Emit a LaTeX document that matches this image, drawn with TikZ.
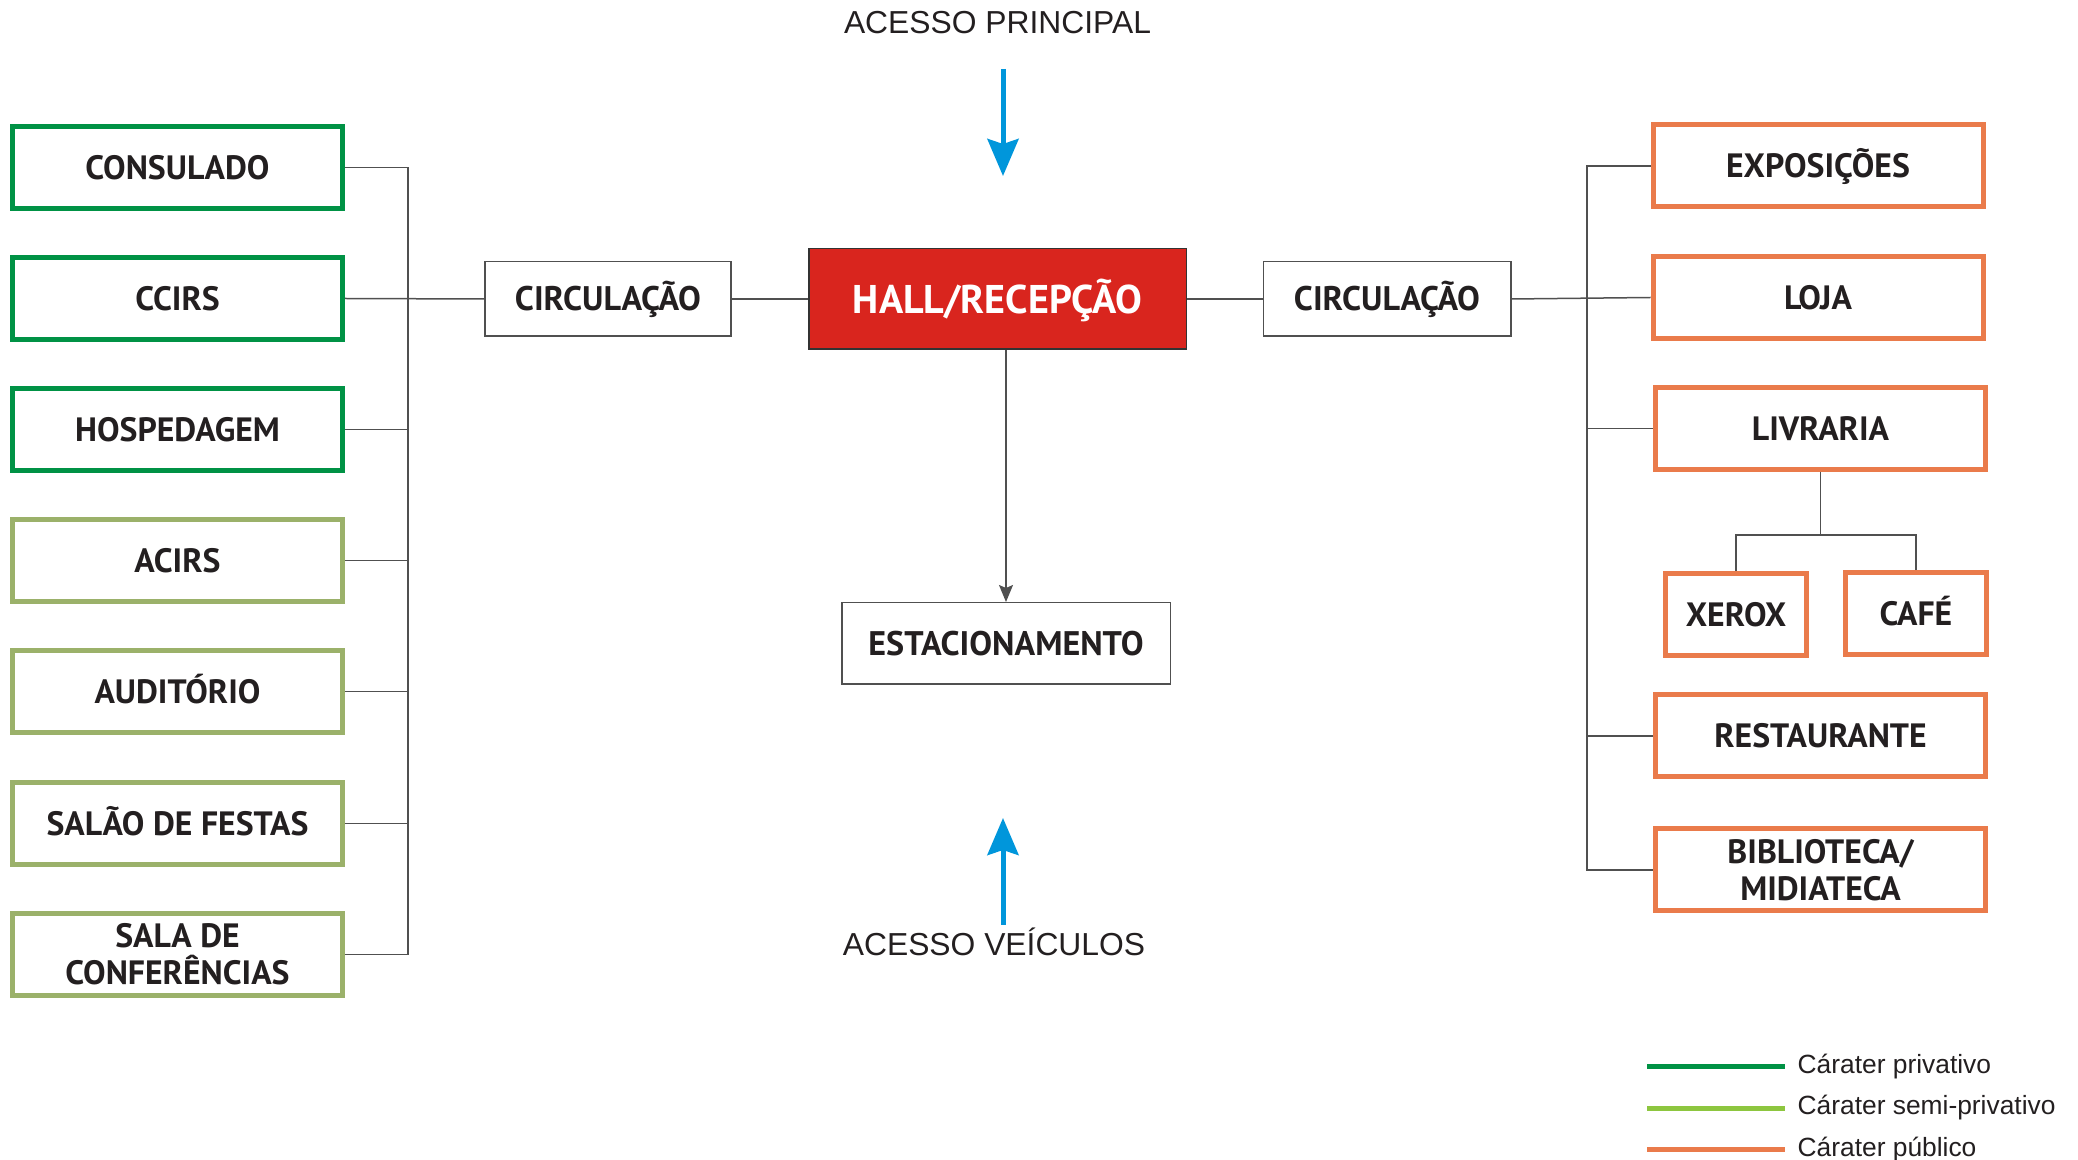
\documentclass[tikz,border=0pt]{standalone}
\usepackage{fontspec}
\setmainfont{PT Sans}
\newfontfamily\legendfont{Liberation Sans}
\usetikzlibrary{arrows.meta,calc}
\definecolor{privgreen}{RGB}{0,146,69}
\definecolor{semigreen}{RGB}{155,177,106}
\definecolor{semilegend}{RGB}{141,198,63}
\definecolor{puborange}{RGB}{234,123,75}
\definecolor{hallred}{RGB}{217,37,30}
\definecolor{accessblue}{RGB}{0,150,219}
\definecolor{linegray}{RGB}{80,80,80}
\definecolor{inkblack}{RGB}{35,31,32}
\tikzset{
  roombox/.style={draw,line width=0.5mm,fill=white,minimum width=33mm,minimum height=8.2mm,
    inner sep=1pt,align=center,text=inkblack,font=\fontsize{9.6}{10.5}\selectfont\bfseries,
    text height=6.7pt,text depth=0pt},
  privroom/.style={roombox,draw=privgreen},
  semiroom/.style={roombox,draw=semigreen},
  pubroom/.style={roombox,draw=puborange},
  twoline/.style={text height=,text depth=},
  circbox/.style={draw=linegray,line width=0.15mm,fill=white,minimum width=24.6mm,minimum height=7.45mm,
    inner sep=1pt,text=inkblack,font=\fontsize{9.7}{10.5}\selectfont\bfseries,text height=6.8pt,text depth=0pt},
  hallbox/.style={draw=black!80,line width=0.15mm,fill=hallred,text=white,minimum width=37.75mm,
    minimum height=10.05mm,font=\fontsize{11.4}{13}\selectfont\bfseries,text height=8pt,text depth=0pt},
  link/.style={draw=linegray,line width=0.15mm},
  access/.style={draw=accessblue,line width=0.5mm,-{Stealth[width=3.1mm,length=3.7mm,inset=0.5mm]}},
  accesslabel/.style={font=\legendfont\fontsize{9.05}{11}\selectfont,text=inkblack,anchor=base,inner sep=0pt},
  legendline/.style={line width=0.5mm},
  legendlabel/.style={font=\legendfont\fontsize{7.5}{9}\selectfont,text=inkblack,anchor=base west,inner sep=0pt},
}
\begin{document}
\begin{tikzpicture}[x=0.1mm,y=-0.1mm]
\path[fill=white] (0,0) rectangle (2078,1160);
\useasboundingbox (0,0) rectangle (2078,1160);

% private and semi-private rooms (left column)
\node[privroom] (consulado) at (177.5,167.5) {CONSULADO};
\node[privroom] (ccirs) at (177.5,298.5) {CCIRS};
\node[privroom] (hosp) at (177.5,429.5) {HOSPEDAGEM};
\node[semiroom] (acirs) at (177.5,560.5) {ACIRS};
\node[semiroom] (audit) at (177.5,691.5) {AUDITÓRIO};
\node[semiroom] (salao) at (177.5,823.5) {SALÃO DE FESTAS};
\node[semiroom,twoline] (salaconf) at (177.5,954.5) {SALA DE\\CONFERÊNCIAS};

% central axis
\node[circbox] (circl) at (608,299) {CIRCULAÇÃO};
\node[hallbox] (hall) at (997.5,299) {HALL/RECEPÇÃO};
\node[circbox,minimum width=24.75mm] (circr) at (1387,299) {CIRCULAÇÃO};
\node[circbox,minimum width=32.85mm,minimum height=8.15mm] (estac) at (1006,643.5) {ESTACIONAMENTO};

% public rooms (right column)
\node[pubroom] (expo) at (1818,166) {EXPOSIÇÕES};
\node[pubroom] (loja) at (1818,297.5) {LOJA};
\node[pubroom] (livraria) at (1820.5,428.5) {LIVRARIA};
\node[pubroom,minimum width=14.1mm] (xerox) at (1736,614.5) {XEROX};
\node[pubroom,minimum width=14.1mm] (cafe) at (1916,613.5) {CAFÉ};
\node[pubroom] (rest) at (1820.5,736) {RESTAURANTE};
\node[pubroom,twoline] (biblio) at (1820.5,870) {BIBLIOTECA/\\MIDIATECA};

% buses
\coordinate (lbus) at (408,0);
\coordinate (rbus) at (1587,0);
\coordinate (split) at (1821,535);

\draw[link] (consulado.east) -- (consulado.east -| lbus) -- (salaconf.east -| lbus) -- (salaconf.east);
\foreach \r in {hosp,acirs,audit,salao}
  \draw[link] (\r.east) -- (\r.east -| lbus);
\draw[link] (ccirs.east) -- (circl.west);
\draw[link] (circl.east) -- (hall.west);
\draw[link] (hall.east) -- (circr.west);
\draw[link] (circr.east) -- (loja.west);
\draw[link] (expo.west) -- (expo.west -| rbus) -- (biblio.west -| rbus) -- (biblio.west);
\foreach \r in {livraria,rest}
  \draw[link] (\r.west) -- (\r.west -| rbus);

% livraria branch
\draw[link] (livraria.south) -- (livraria.south |- split);
\draw[link] (xerox.north) -- (xerox.north |- split) -- (cafe.north |- split) -- (cafe.north);

% hall to parking
\draw[link,-{Stealth[width=1.4mm,length=1.7mm,inset=0.3mm]}] (hall.south -| estac.north) -- (estac.north);

% accesses
\node[accesslabel] (mainlbl) at (997.5,34) {ACESSO PRINCIPAL};
\coordinate (mainfrom) at (1003,69);
\coordinate (mainto) at (1003,176);
\draw[access] (mainfrom) -- (mainto);
\node[accesslabel] (vehlbl) at (994,956) {ACESSO VEÍCULOS};
\coordinate (vehfrom) at (1003,925);
\coordinate (vehto) at (1003,818);
\draw[access] (vehfrom) -- (vehto);

% legend
\node[legendlabel] (legpriv) at (1797,1073) {Cárater privativo};
\node[legendlabel] (legsemi) at (1797,1114.5) {Cárater semi-privativo};
\node[legendlabel] (legpub) at (1797,1156) {Cárater público};
\foreach \n/\c in {legpriv/privgreen,legsemi/semilegend,legpub/puborange}
  \draw[legendline,draw=\c] ([shift={(-150,-6)}]\n.base west) -- ++(138,0);

\end{tikzpicture}
\end{document}
